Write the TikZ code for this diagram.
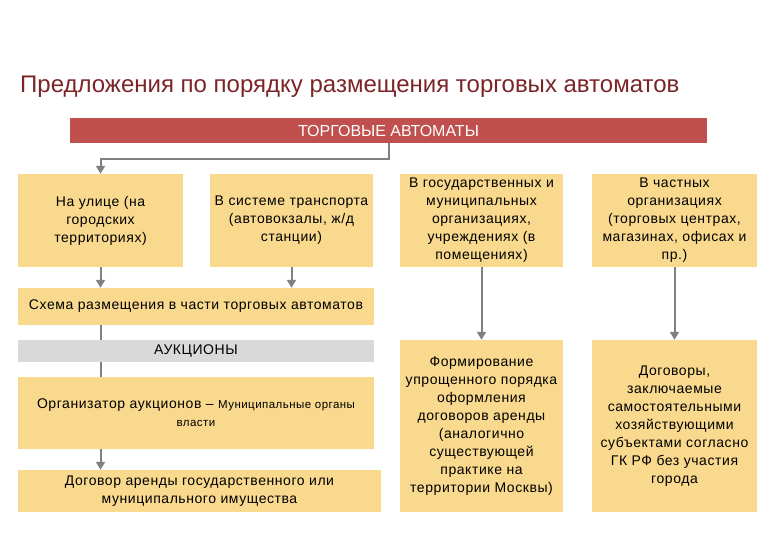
\documentclass[tikz,border=0pt]{standalone}
\usepackage{fontspec}
\setmainfont{Liberation Sans}
\usetikzlibrary{arrows.meta}
\definecolor{titlered}{HTML}{7B2527}
\definecolor{barred}{HTML}{C0504D}
\definecolor{boxyellow}{HTML}{F9D98D}
\definecolor{auctiongray}{HTML}{D9D9D9}
\definecolor{arrowgray}{HTML}{808080}
\begin{document}
\begin{tikzpicture}[x=1pt, y=-1pt,
  every node/.style={inner sep=0pt, align=center, font=\fontsize{14}{18}\selectfont\addfontfeature{LetterSpace=4}},
  box/.style={fill=boxyellow},
  link/.style={draw=arrowgray, line width=2pt},
  arr/.style={link, -{Triangle[width=9pt, length=8pt]}}]
  \useasboundingbox (0,0) rectangle (780,540);

  % Nodes
  \node[anchor=base west, text=titlered, font=\fontsize{24}{28}\selectfont] (title) at (20,93)
    {Предложения по порядку размещения торговых автоматов};
  \node[fill=barred, text=white, minimum width=637pt, minimum height=25pt, font=\fontsize{16}{18}\selectfont] (bar) at (388.5,130.5) {ТОРГОВЫЕ АВТОМАТЫ};
  \node[box, minimum width=165pt, minimum height=93pt] (street) at (100.5,220.5) {На улице (на\\городских\\территориях)};
  \node[box, minimum width=163pt, minimum height=93pt] (transport) at (291.5,220.5) {В системе транспорта\\(автовокзалы, ж/д\\станции)};
  \node[box, minimum width=163pt, minimum height=93pt] (state) at (481.5,220.5) {В государственных и\\муниципальных\\организациях,\\учреждениях (в\\помещениях)};
  \node[box, minimum width=165pt, minimum height=93pt] (private) at (674.5,220.5) {В частных\\организациях\\(торговых центрах,\\магазинах, офисах и\\пр.)};
  \node[box, minimum width=356pt, minimum height=37pt] (scheme) at (196,306.5) {Схема размещения в части торговых автоматов};
  \node[fill=auctiongray, minimum width=356pt, minimum height=22pt] (auction) at (196,351) {АУКЦИОНЫ};
  \node[box, minimum width=356pt, minimum height=72pt] (organizer) at (196,413)
    {Организатор аукционов -- {\fontsize{11.5}{15}\selectfont Муниципальные органы}\\{\fontsize{11.5}{15}\selectfont власти}};
  \node[box, minimum width=363pt, minimum height=42pt] (lease) at (199.5,491) {Договор аренды государственного или\\муниципального имущества};
  \node[box, minimum width=163pt, minimum height=172pt] (simple) at (481.5,426)
    {Формирование\\упрощенного порядка\\оформления\\договоров аренды\\(аналогично\\существующей\\практике на\\территории Москвы)};
  \node[box, minimum width=165pt, minimum height=172pt] (contracts) at (674.5,426)
    {Договоры,\\заключаемые\\самостоятельными\\хозяйствующими\\субъектами согласно\\ГК РФ без участия\\города};

  % Edges
  \draw[arr] (bar.south) -- ++(0,16) -| (street.north);
  \draw[arr] (street.south) -- (street.south |- scheme.north);
  \draw[arr] (transport.south) -- (transport.south |- scheme.north);
  \draw[arr] (state.south) -- (simple.north);
  \draw[arr] (private.south) -- (contracts.north);
  \draw[link] (street.south |- scheme.south) -- (street.south |- auction.north);
  \draw[link] (street.south |- auction.south) -- (street.south |- organizer.north);
  \draw[arr] (street.south |- organizer.south) -- (street.south |- lease.north);
\end{tikzpicture}
\end{document}
